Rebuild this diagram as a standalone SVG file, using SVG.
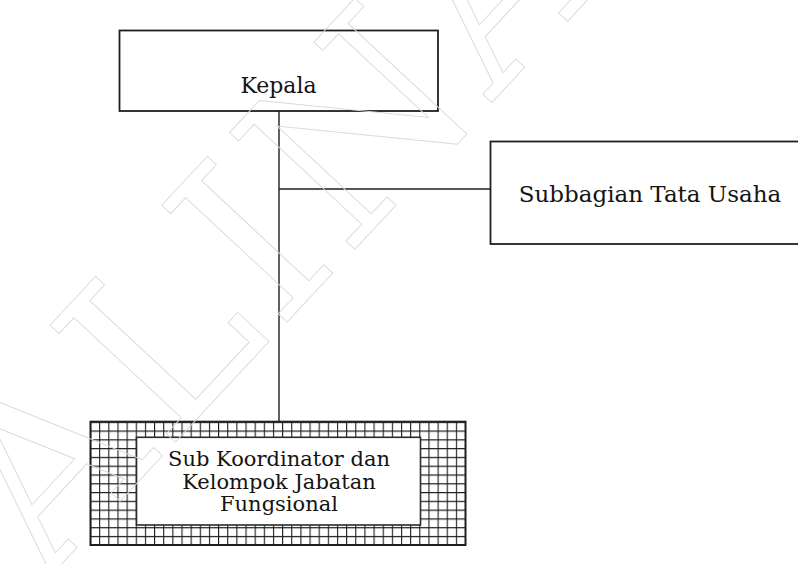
<svg xmlns="http://www.w3.org/2000/svg" width="798" height="564" viewBox="0 0 798 564">
<style>
.box{fill:none;stroke:#1e1e1e;stroke-width:1.8}
.lbl{font-family:"DejaVu Serif","Liberation Serif",serif;fill:#141414;text-anchor:middle}
.conn{stroke:#1e1e1e;stroke-width:1.4;fill:none}
.wm{font-family:"DejaVu Serif","Liberation Serif",serif;font-size:235px;letter-spacing:8px;fill:none;stroke:#dadada;stroke-width:0.9}
</style>
<defs>
<pattern id="grid" patternUnits="userSpaceOnUse" x="90" y="421.7" width="9.146" height="8.786">
<path d="M0 0.5H9.146M0.5 0V8.786" stroke="#1e1e1e" stroke-width="1.2" fill="none"/>
</pattern>
</defs>
<rect width="798" height="564" fill="#ffffff"/>
<g id="connectors">
<path class="conn" d="M279 111V421.7"/>
<path class="conn" d="M279 189H490.5"/>
</g>
<g id="kepala">
<rect class="box" x="119.5" y="30.5" width="318.5" height="80.5"/>
<text class="lbl" x="278.5" y="93" font-size="22">Kepala</text>
</g>
<g id="subbagian">
<rect class="box" x="490.5" y="141.5" width="330" height="102.5"/>
<text class="lbl" x="650" y="202" font-size="23">Subbagian Tata Usaha</text>
</g>
<g id="subkoordinator">
<rect x="90.5" y="421.7" width="375" height="123.3" fill="url(#grid)" stroke="#1e1e1e" stroke-width="2"/>
<rect x="136.5" y="437.3" width="284" height="87.7" fill="#ffffff" stroke="#2a2a2a" stroke-width="1.6"/>
<text class="lbl" font-size="21"><tspan x="279" y="466">Sub Koordinator dan</tspan><tspan x="279" y="489">Kelompok Jabatan</tspan><tspan x="279" y="511">Fungsional</tspan></text>
</g>
<g id="watermark">
<text class="wm" transform="translate(-70,705) rotate(-47)">SALINAN</text>
</g>
</svg>
